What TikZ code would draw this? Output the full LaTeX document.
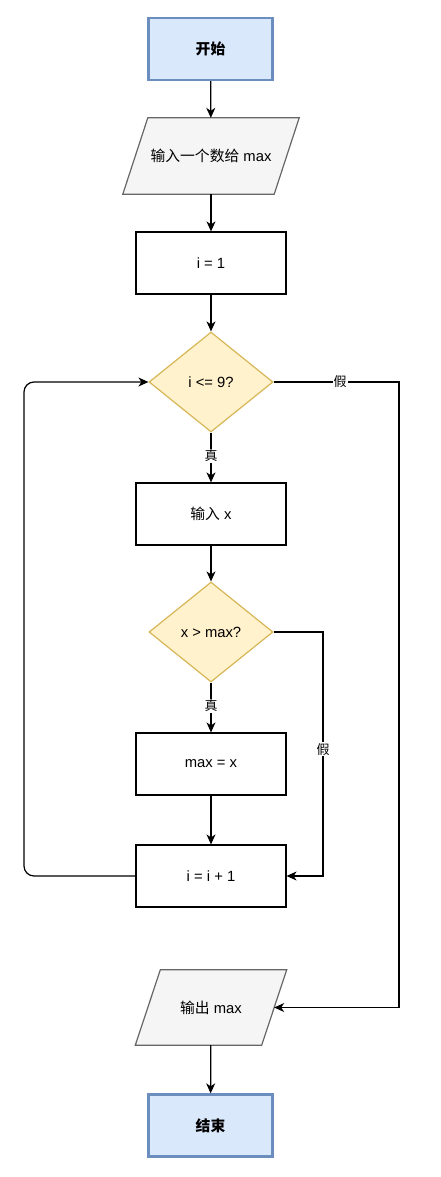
\documentclass[tikz,border=0pt]{standalone}
\usepackage{fontspec}
\setmainfont{Liberation Sans}
\newfontfamily\cjk{Noto Sans CJK SC}
\usetikzlibrary{arrows.meta,shapes.geometric,backgrounds}
\definecolor{bfill}{HTML}{DAE8FC}
\definecolor{bdraw}{HTML}{6C8EBF}
\definecolor{gfill}{HTML}{F5F5F5}
\definecolor{gdraw}{HTML}{666666}
\definecolor{yfill}{HTML}{FFF2CC}
\definecolor{ydraw}{HTML}{D6B656}
\begin{document}
\begin{tikzpicture}[x=1pt,y=-1pt,
  base/.style={inner sep=0pt, align=center, font=\fontsize{14.8}{17}\selectfont},
  term/.style={base, rectangle, draw=bdraw, fill=bfill, line width=2.3pt, minimum width=124pt, minimum height=62pt, font=\fontsize{14.8}{17}\selectfont\bfseries},
  proc/.style={base, rectangle, draw=black, line width=1.2pt, minimum width=150pt, minimum height=62pt},
  iobox/.style={base, rectangle, minimum height=76pt},
  iofill/.style={draw=gdraw, fill=gfill, line width=1.2pt},
  cond/.style={base, diamond, draw=ydraw, fill=yfill, line width=1.2pt, minimum width=124pt, minimum height=100pt, aspect=1.24},
  arr/.style={line width=1.2pt, -{Stealth[length=10pt,width=9pt,inset=3pt]}},
  lbl/.style={fill=white, inner sep=1pt, font=\fontsize{13}{15}\selectfont\cjk}
]
\useasboundingbox (0,0) rectangle (440,1177);

\node[term] (start) at (210.5,49) {\cjk 开始};
\node[iobox, minimum width=151pt] (in1) at (211,156) {\cjk 输入一个数给\normalfont\ max};
\node[proc] (init) at (211,263) {i = 1};
\node[cond] (d1) at (211,382) {i <= 9?};
\node[proc] (inx) at (211,514) {\cjk 输入\normalfont\ x};
\node[cond] (d2) at (211,632) {x > max?};
\node[proc] (asg) at (211,764) {max = x};
\node[proc] (inc) at (211,876) {i = i + 1};
\node[iobox, minimum width=126pt, minimum height=75pt] (out) at (211,1007.5) {\cjk 输出\normalfont\ max};
\node[term] (end) at (210.5,1125.5) {\cjk 结束};

\begin{scope}[on background layer]
  \draw[iofill] ([xshift=12.5pt]in1.north west) -- ([xshift=12.5pt]in1.north east) -- ([xshift=-12.5pt]in1.south east) -- ([xshift=-12.5pt]in1.south west) -- cycle;
  \draw[iofill] ([xshift=12.5pt]out.north west) -- ([xshift=12.5pt]out.north east) -- ([xshift=-12.5pt]out.south east) -- ([xshift=-12.5pt]out.south west) -- cycle;
\end{scope}

\coordinate (lp) at (24,382);
\coordinate (c1) at (399,382);
\coordinate (c2) at (323,632);

\draw[arr] (start) -- (in1);
\draw[arr] (in1) -- (init);
\draw[arr] (init) -- (d1);
\draw[arr] (d1) -- node[lbl, pos=0.47] {真} (inx);
\draw[arr] (inx) -- (d2);
\draw[arr] (d2) -- node[lbl, pos=0.47] {真} (asg);
\draw[arr] (asg) -- (inc);
\draw[arr] (d2.east) -- (c2) |- node[lbl, pos=0.24] {假} (inc.east);
\draw[arr, rounded corners=10pt] (inc.west) -| (lp) -- (d1.west);
\draw[arr] (d1.east) -- node[lbl, pos=0.53] {假} (c1) |- (out.east);
\draw[arr] (out) -- (end);
\end{tikzpicture}
\end{document}
